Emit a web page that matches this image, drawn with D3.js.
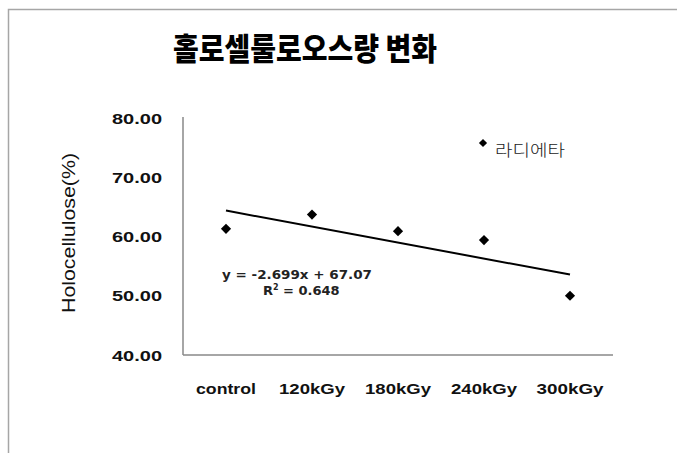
<!DOCTYPE html>
<html>
<head>
<meta charset="utf-8">
<script src="https://cdn.jsdelivr.net/npm/d3@7"></script>
<style>
  body { margin: 0; background: #fff; }
  svg { display: block; }
</style>
</head>
<body>
<div id="main_div"></div>
<script>
/** chart data **/
const categories = ["control", "120kGy", "180kGy", "240kGy", "300kGy"];
const values = [61.3, 63.7, 60.9, 59.4, 50.0];
const yTicks = [40, 50, 60, 70, 80];
const slope = -2.699, intercept = 67.07;
const title = "홀로셀룰로오스량 변화";
const yTitle = "Holocellulose(%)";
const seriesName = "라디에타";
const eqText = "y = -2.699x + 67.07";
const r2Text = "0.648";

const size = [677, 453];
const plot = { left: 183, right: 613, top: 118, bottom: 355 };

let svg = d3.select("#main_div")
    .append("svg")
    .attr("width", size[0])
    .attr("height", size[1]);

// outer chart border
svg.append("rect")
    .attr("x", 8.5).attr("y", 9.5)
    .attr("width", 720).attr("height", 500)
    .attr("fill", "none")
    .attr("stroke", "#a6a6a6")
    .attr("stroke-width", 1.5);

/** scales **/
let xScale = d3.scaleBand()
    .domain(categories)
    .range([plot.left, plot.right])
    .padding(0);

let yScale = d3.scaleLinear()
    .domain([40, 80])
    .range([plot.bottom, plot.top]);

// title
svg.append("text")
    .attr("x", 305).attr("y", 60)
    .attr("text-anchor", "middle")
    .attr("textLength", 264)
    .attr("lengthAdjust", "spacingAndGlyphs")
    .style("font-family", "'Noto Sans CJK KR', sans-serif")
    .style("font-weight", "900")
    .style("font-size", "31px")
    .attr("fill", "#000")
    .text(title);

/** axes **/
svg.append("line")
    .attr("x1", plot.left).attr("x2", plot.left)
    .attr("y1", plot.top - 1).attr("y2", plot.bottom)
    .attr("stroke", "#888").attr("stroke-width", 1.5);

svg.append("line")
    .attr("x1", plot.left).attr("x2", plot.right)
    .attr("y1", plot.bottom).attr("y2", plot.bottom)
    .attr("stroke", "#888").attr("stroke-width", 1.5);

// y tick labels
svg.append("g").selectAll("text")
    .data(yTicks)
    .enter().append("text")
    .attr("x", 162)
    .attr("y", d => yScale(d) + 5.5)
    .attr("text-anchor", "end")
    .attr("textLength", 50)
    .attr("lengthAdjust", "spacingAndGlyphs")
    .style("font-family", "'Liberation Sans', Arial, sans-serif")
    .style("font-weight", "bold")
    .style("font-size", "15px")
    .attr("fill", "#111")
    .text(d => d3.format(".2f")(d));

// x category labels
let xWidths = [60, 66, 66, 66, 67];
svg.append("g").selectAll("text")
    .data(categories)
    .enter().append("text")
    .attr("x", d => xScale(d) + xScale.bandwidth() / 2)
    .attr("y", 394)
    .attr("text-anchor", "middle")
    .attr("textLength", (d, i) => xWidths[i])
    .attr("lengthAdjust", "spacingAndGlyphs")
    .style("font-family", "'Liberation Sans', Arial, sans-serif")
    .style("font-weight", "bold")
    .style("font-size", "14px")
    .attr("fill", "#111")
    .text(d => d);

// y axis title
svg.append("text")
    .attr("transform", "translate(75,233) rotate(-90)")
    .attr("text-anchor", "middle")
    .attr("textLength", 160)
    .attr("lengthAdjust", "spacingAndGlyphs")
    .style("font-family", "'Liberation Sans', Arial, sans-serif")
    .style("font-size", "19px")
    .attr("fill", "#111")
    .text(yTitle);

/** trend line **/
let cx = (d, i) => xScale(categories[i]) + xScale.bandwidth() / 2;
let trend = [1, categories.length].map(n => ({ n: n, v: slope * n + intercept }));
svg.append("line")
    .attr("x1", xScale(categories[0]) + xScale.bandwidth() / 2)
    .attr("y1", yScale(trend[0].v))
    .attr("x2", xScale(categories[categories.length - 1]) + xScale.bandwidth() / 2)
    .attr("y2", yScale(trend[1].v))
    .attr("stroke", "#000")
    .attr("stroke-width", 2);

/** data points **/
let diamond = d3.symbol().type(d3.symbolSquare).size(52);
svg.append("g").selectAll("path")
    .data(values)
    .enter().append("path")
    .attr("d", diamond)
    .attr("transform", (d, i) => "translate(" + cx(d, i) + "," + yScale(d) + ") rotate(45)")
    .attr("fill", "#000");

// equation
let eq = svg.append("g")
    .style("font-family", "'DejaVu Sans', Verdana, sans-serif")
    .style("font-weight", "bold")
    .style("font-size", "13px")
    .attr("fill", "#222");
eq.append("text")
    .attr("x", 297).attr("y", 279)
    .attr("text-anchor", "middle")
    .attr("textLength", 150)
    .attr("lengthAdjust", "spacingAndGlyphs")
    .text(eqText);
let r2 = eq.append("text")
    .attr("x", 263).attr("y", 295);
r2.append("tspan").text("R");
r2.append("tspan").attr("dy", -5).style("font-size", "8px").text("2");
r2.append("tspan").attr("dy", 5).text(" = " + r2Text);

/** legend **/
svg.append("path")
    .attr("d", d3.symbol().type(d3.symbolSquare).size(34))
    .attr("transform", "translate(483,143) rotate(45)")
    .attr("fill", "#000");
svg.append("text")
    .attr("x", 495).attr("y", 156)
    .attr("textLength", 70)
    .attr("lengthAdjust", "spacingAndGlyphs")
    .style("font-family", "'Noto Sans CJK KR', sans-serif")
    .style("font-size", "16px")
    .style("font-weight", "300")
    .attr("fill", "#222")
    .text(seriesName);
</script>
</body>
</html>
